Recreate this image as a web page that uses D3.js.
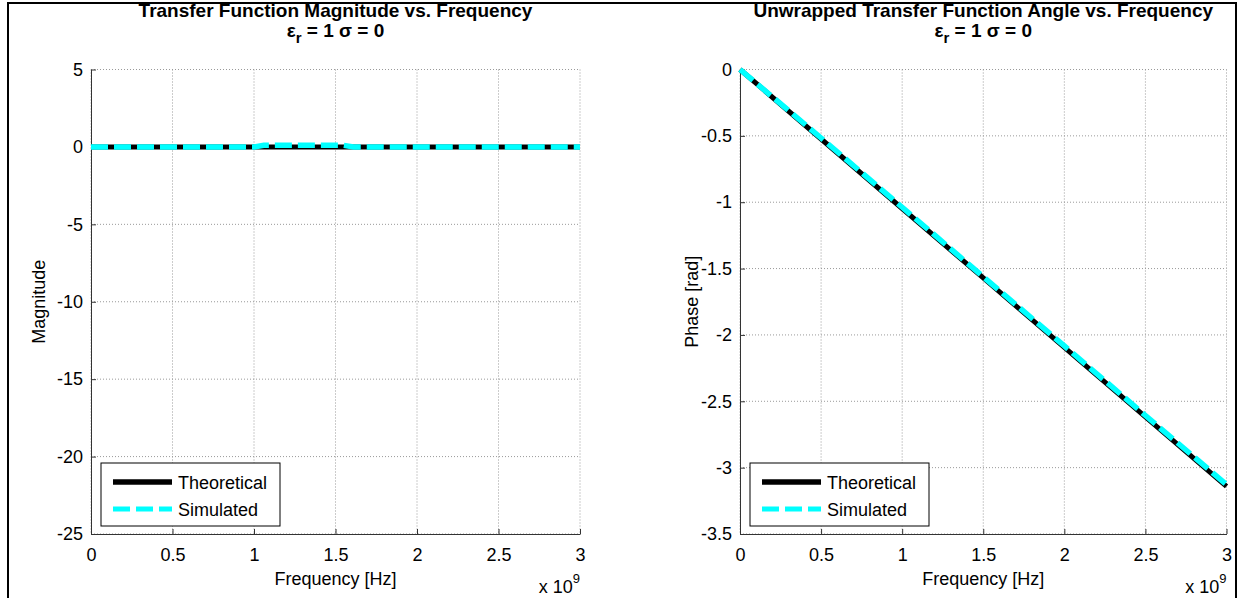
<!DOCTYPE html>
<html>
<head>
<meta charset="utf-8">
<script src="https://cdn.jsdelivr.net/npm/d3@7"></script>
<style>
    body { margin: 0; background: #fff; }
    svg text { font-family: "Liberation Sans", Arial, Helvetica, sans-serif; fill: #000; }
</style>
</head>
<body>
<svg id="fig" width="1243" height="598"></svg>
<script>
// tick values
const freqTicks = [0, 0.5, 1, 1.5, 2, 2.5, 3];
const magTicks = [5, 0, -5, -10, -15, -20, -25];
const phaseTicks = [0, -0.5, -1, -1.5, -2, -2.5, -3, -3.5];

// magnitude data (freq in units of 1e9 Hz)
const magFreq = [0, 0.5, 1, 1.5, 2, 2.5, 3];
const magTheoretical = [0, 0, 0, 0, 0, 0, 0];
const magSimFreq = [0, 0.5, 1.0, 1.06, 1.3, 1.55, 1.61, 2, 2.5, 3];
const magSimulated = [0, 0, 0, 0.1, 0.1, 0.1, 0, 0, 0, 0];

// phase data
const phaseFreq = [0, 0.5, 1, 1.5, 2, 2.5, 3];
const phaseTheoretical = [0, -0.5236, -1.0472, -1.5708, -2.0944, -2.618, -3.1416];
const phaseSimulated = [0, -0.516, -1.038, -1.562, -2.083, -2.607, -3.128];

const legendLabels = ["Theoretical", "Simulated"];

const svg = d3.select("svg#fig");

// figure frame
svg.append("rect")
    .attr("x", 8).attr("y", 3)
    .attr("width", 1228).attr("height", 620)
    .attr("fill", "none").attr("stroke", "#000").attr("stroke-width", 2);

function zip(xs, ys) {
    return xs.map((x, i) => ({ x: x, y: ys[i] }));
}

function drawPanel(opt) {
    const x = d3.scaleLinear().domain([0, 3]).range([opt.left, opt.right]);
    const y = d3.scaleLinear().domain(opt.yDomain).range([opt.bottom, opt.top]);
    const g = svg.append("g");

    // grid
    g.selectAll("line.vgrid").data(freqTicks).enter().append("line")
        .attr("x1", d => x(d)).attr("x2", d => x(d))
        .attr("y1", opt.top).attr("y2", opt.bottom)
        .attr("stroke", "#999").attr("stroke-dasharray", "1,2");
    g.selectAll("line.hgrid").data(opt.yTicks).enter().append("line")
        .attr("x1", opt.left).attr("x2", opt.right)
        .attr("y1", d => y(d)).attr("y2", d => y(d))
        .attr("stroke", "#999").attr("stroke-dasharray", "1,2");

    // axes
    const xAxis = d3.axisBottom(x).tickValues(freqTicks).tickFormat(d3.format("")).tickSizeInner(-5).tickSizeOuter(0).tickPadding(10);
    const yAxis = d3.axisLeft(y).tickValues(opt.yTicks).tickFormat(d3.format("")).tickSizeInner(-5).tickSizeOuter(0).tickPadding(8);

    const gx = g.append("g").attr("transform", `translate(0,${opt.bottom})`).call(xAxis);
    const gy = g.append("g").attr("transform", `translate(${opt.left},0)`).call(yAxis);
    [gx, gy].forEach(a => {
        a.select(".domain").attr("stroke", "#333");
        a.selectAll(".tick line").attr("stroke", "#333");
        a.selectAll(".tick text").attr("font-size", 18).attr("fill", "#000")
            .style("font-family", '"Liberation Sans", Arial, sans-serif');
    });
    gx.selectAll(".tick text").attr("dy", "0.95em");
    gy.selectAll(".tick text").text(d => d < 0 ? "-" + Math.abs(d) : d);

    // curves
    const line = d3.line().x(d => x(d.x)).y(d => y(d.y));
    g.append("path").datum(zip(opt.theoX, opt.theoY))
        .attr("d", line).attr("fill", "none")
        .attr("stroke", "#000").attr("stroke-width", 5);
    g.append("path").datum(zip(opt.simX, opt.simY))
        .attr("d", line).attr("fill", "none")
        .attr("stroke", "#00ffff").attr("stroke-width", 5.5)
        .attr("stroke-dasharray", "17,6");

    // titles
    const cx = (opt.left + opt.right) / 2;
    g.append("text").attr("x", cx).attr("y", 17)
        .attr("text-anchor", "middle").attr("font-weight", "bold").attr("font-size", 19)
        .text(opt.title);
    const t2 = g.append("text").attr("x", cx).attr("y", 37)
        .attr("text-anchor", "middle").attr("font-weight", "bold").attr("font-size", 19);
    t2.append("tspan").text("ε");
    t2.append("tspan").attr("dy", 6).attr("font-size", 15).text("r");
    t2.append("tspan").attr("dy", -6).text(" = 1 σ = 0");

    // axis labels
    g.append("text").attr("x", cx).attr("y", 585)
        .attr("text-anchor", "middle").attr("font-size", 18).text("Frequency [Hz]");
    const ex = g.append("text").attr("x", opt.right).attr("y", 593)
        .attr("text-anchor", "end").attr("font-size", 18);
    ex.append("tspan").text("x 10");
    ex.append("tspan").attr("dy", -10).attr("font-size", 13).text("9");

    g.append("text")
        .attr("transform", `translate(${opt.ylabelX},${(opt.top + opt.bottom) / 2}) rotate(-90)`)
        .attr("text-anchor", "middle").attr("font-size", 18).text(opt.ylabel);

    // legend
    const lg = g.append("g").attr("transform", `translate(${opt.left + 10},463)`);
    lg.append("rect").attr("width", 179).attr("height", 63)
        .attr("fill", "#fff").attr("stroke", "#000").attr("stroke-width", 1);
    legendLabels.forEach((lab, i) => {
        const yy = 19 + i * 27;
        const l = lg.append("line").attr("x1", 12).attr("x2", 71).attr("y1", yy).attr("y2", yy);
        if (i === 0) {
            l.attr("stroke", "#000").attr("stroke-width", 5.5);
        } else {
            l.attr("stroke", "#00ffff").attr("stroke-width", 5).attr("stroke-dasharray", "17,6");
        }
        lg.append("text").attr("x", 77).attr("y", yy + 6.5).attr("font-size", 18).text(lab);
    });
}

drawPanel({
    left: 91, right: 580, top: 69.5, bottom: 534,
    yDomain: [-25, 5], yTicks: magTicks,
    theoX: magFreq, theoY: magTheoretical,
    simX: magSimFreq, simY: magSimulated,
    title: "Transfer Function Magnitude vs. Frequency",
    ylabel: "Magnitude", ylabelX: 45
});

drawPanel({
    left: 740, right: 1226.5, top: 69.5, bottom: 534,
    yDomain: [-3.5, 0], yTicks: phaseTicks,
    theoX: phaseFreq, theoY: phaseTheoretical,
    simX: phaseFreq, simY: phaseSimulated,
    title: "Unwrapped Transfer Function Angle vs. Frequency",
    ylabel: "Phase [rad]", ylabelX: 698
});
</script>
</body>
</html>
